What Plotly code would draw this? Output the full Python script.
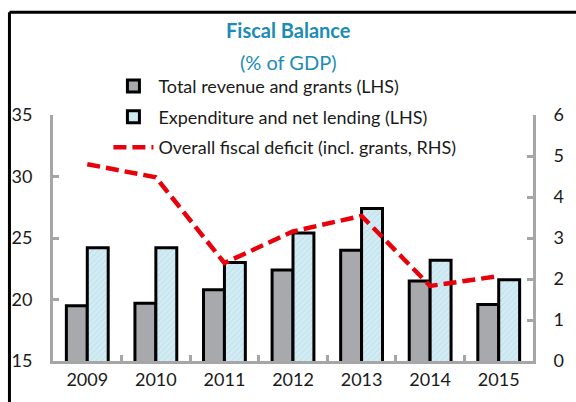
import plotly.graph_objects as go

years = ["2009", "2010", "2011", "2012", "2013", "2014", "2015"]
revenue = [19.5, 19.7, 20.8, 22.4, 24.0, 21.5, 19.6]
expenditure = [24.2, 24.2, 23.0, 25.4, 27.4, 23.2, 21.6]
deficit = [4.8, 4.48, 2.39, 3.16, 3.54, 1.83, 2.07]

FONT = "Lato"
TXT = "#1a1a1a"
AX = "#A6A6A6"
TEAL = "#1B8CB8"

W, H = 576, 402
ML, MR, MT, MB = 52, 39, 115, 38
PW, PH = W - ML - MR, H - MT - MB

def px_x(p):
    return (p - ML) / PW

def px_y(p):
    return (H - MB - p) / PH

fig = go.Figure()
fig.add_trace(go.Bar(
    x=years, y=revenue, name="Total revenue and grants (LHS)",
    marker=dict(color="#A7A9AC", line=dict(color="black", width=3)),
    legend="legend2",
))
fig.add_trace(go.Bar(
    x=years, y=expenditure, name="Expenditure and net lending (LHS)",
    marker=dict(color="#D3ECF4", line=dict(color="black", width=3),
                pattern=dict(shape="/", fgcolor="#A9D4E2", bgcolor="#D3ECF4", size=4, solidity=0.25)),
    legend="legend3",
))
fig.add_trace(go.Scatter(
    x=years, y=deficit, name="Overall fiscal deficit (incl. grants, RHS)",
    mode="lines", yaxis="y2",
    line=dict(color="#E8000B", width=4.5, dash="13px,6px"),
    legend="legend4",
))

leg_common = dict(bgcolor="rgba(0,0,0,0)", font=dict(family=FONT, size=18, color=TXT),
                  xanchor="left", yanchor="middle", itemwidth=40)
fig.update_layout(
    width=W, height=H,
    margin=dict(l=ML, r=MR, t=MT, b=MB),
    paper_bgcolor="white", plot_bgcolor="white",
    barmode="group", bargap=0.39, bargroupgap=0.0,
    font=dict(family=FONT, size=18, color=TXT),
    showlegend=True,
    xaxis=dict(showgrid=False, showline=True, linecolor=AX, linewidth=3,
               ticks="inside", tickson="boundaries", ticklen=6, tickwidth=3, tickcolor=AX,
               tickfont=dict(family=FONT, size=18, color=TXT)),
    yaxis=dict(range=[15, 35], dtick=5, showgrid=False, zeroline=False,
               showline=True, linecolor=AX, linewidth=3,
               ticks="inside", ticklen=6, tickwidth=3, tickcolor=AX,
               ticklabelstandoff=14,
               tickfont=dict(family=FONT, size=18, color=TXT)),
    yaxis2=dict(range=[0, 6], dtick=1, overlaying="y", side="right", showgrid=False,
                zeroline=False, showline=True, linecolor=AX, linewidth=3,
                ticks="inside", ticklen=6, tickwidth=3, tickcolor=AX,
                ticklabelstandoff=14,
                tickfont=dict(family=FONT, size=18, color=TXT)),
    legend2=dict(x=px_x(108), y=px_y(86), **leg_common),
    legend3=dict(x=px_x(108), y=px_y(117), **leg_common),
    legend4=dict(x=px_x(108), y=px_y(148), **leg_common),
    annotations=[
        dict(text="<b>Fiscal Balance</b>", xref="paper", yref="paper",
             x=px_x(290), y=px_y(29), showarrow=False, yanchor="middle", xanchor="center",
             font=dict(family=FONT, size=20, color=TEAL)),
        dict(text="(% of GDP)", xref="paper", yref="paper",
             x=px_x(290), y=px_y(61), showarrow=False, yanchor="middle", xanchor="center",
             font=dict(family=FONT, size=20, color=TEAL)),
    ],
    shapes=[
        dict(type="line", xref="paper", yref="paper", x0=px_x(8), x1=px_x(8),
             y0=px_y(11), y1=px_y(410), line=dict(color="black", width=3)),
        dict(type="line", xref="paper", yref="paper", x0=px_x(8), x1=px_x(590),
             y0=px_y(11), y1=px_y(11), line=dict(color="black", width=3)),
    ],
)

fig.write_html("out.html", config={"displayModeBar": False},
               post_script="document.body.style.margin='0';")
